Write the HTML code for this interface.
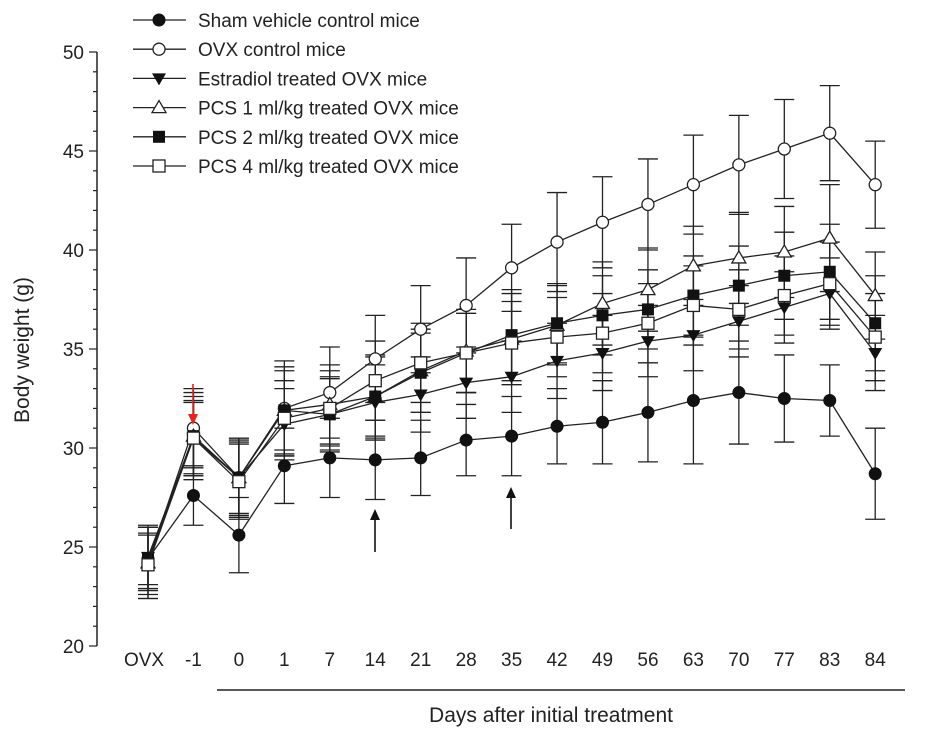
<!DOCTYPE html>
<html><head><meta charset="utf-8"><style>
body{margin:0;background:#fff}
svg text{font-family:"Liberation Sans",Arial,sans-serif;fill:#222}
</style></head><body>
<svg id="chart" width="930" height="738" xmlns="http://www.w3.org/2000/svg"></svg>
<script>
const categories=["OVX","-1","0","1","7","14","21","28","35","42","49","56","63","70","77","83","84"];
const shamValues=[24.4,27.6,25.6,29.1,29.5,29.4,29.5,30.4,30.6,31.1,31.3,31.8,32.4,32.8,32.5,32.4,28.7];
const shamErr=[1.3,1.5,1.9,1.9,2.0,2.0,1.9,1.8,2.0,1.9,2.1,2.5,3.2,2.6,2.2,1.8,2.3];
const ovxValues=[24.2,31.0,28.5,32.0,32.8,34.5,36.0,37.2,39.1,40.4,41.4,42.3,43.3,44.3,45.1,45.9,43.3];
const ovxErr=[1.8,2.0,2.0,2.4,2.3,2.2,2.2,2.4,2.2,2.5,2.3,2.3,2.5,2.5,2.5,2.4,2.2];
const e2Values=[24.5,30.5,28.5,31.2,31.7,32.3,32.7,33.3,33.6,34.4,34.8,35.4,35.7,36.4,37.1,37.8,34.8];
const e2Err=[1.6,1.8,1.8,1.8,1.8,1.9,1.9,1.8,1.8,1.9,1.9,1.8,1.8,1.8,1.8,1.8,1.9];
const pcs1Values=[24.2,30.6,28.5,31.9,32.2,32.6,33.9,34.9,35.5,36.2,37.3,38.0,39.2,39.6,39.9,40.6,37.7];
const pcs1Err=[1.8,2.2,2.0,2.2,2.0,2.1,2.1,2.1,2.3,2.0,2.1,2.1,2.0,2.3,2.3,2.7,2.2];
const pcs2Values=[24.4,30.6,28.5,31.9,31.7,32.6,33.8,34.8,35.7,36.3,36.7,37.0,37.7,38.2,38.7,38.9,36.3];
const pcs2Err=[1.6,2.0,1.9,2.0,1.9,2.0,2.0,2.0,2.3,2.0,2.0,2.0,2.0,2.0,2.2,2.4,2.4];
const pcs4Values=[24.1,30.5,28.3,31.5,32.0,33.4,34.3,34.8,35.3,35.6,35.8,36.3,37.2,37.0,37.7,38.3,35.6];
const pcs4Err=[1.5,1.9,1.9,1.9,1.9,2.0,2.0,2.0,2.1,2.0,2.0,2.0,2.0,2.0,2.0,2.1,2.2];
const yTicks=[20,25,30,35,40,45,50];
const legendLabels=["Sham vehicle control mice","OVX control mice","Estradiol treated OVX mice","PCS 1 ml/kg treated OVX mice","PCS 2 ml/kg treated OVX mice","PCS 4 ml/kg treated OVX mice"];

const NS="http://www.w3.org/2000/svg";
const svg=document.getElementById('chart');
const x0=148,dx=45.45,yBase=646,pxPerUnit=19.8;
function xs(i){return x0+i*dx;}
function ys(v){return yBase-(v-20)*pxPerUnit;}
function mk(tag,attrs,parent){const e=document.createElementNS(NS,tag);for(const k in attrs)e.setAttribute(k,attrs[k]);(parent||svg).appendChild(e);return e;}

// y axis
const ax=mk('g',{});


mk('line',{x1:97,y1:ys(50),x2:97,y2:ys(20),stroke:'#222','stroke-width':1.5},ax);
for(let v=20;v<=50;v++){const major=v%5===0;mk('line',{x1:major?89:93,y1:ys(v),x2:97,y2:ys(v),stroke:'#222','stroke-width':1.2},ax);}
yTicks.forEach(v=>{const t=mk('text',{x:84,y:ys(v)+7,'text-anchor':'end','font-size':19},ax);t.textContent=v;

});
const yt=mk('text',{x:0,y:0,transform:'translate(29,350) rotate(-90)','text-anchor':'middle','font-size':21});
yt.textContent='Body weight (g)';



// x labels
categories.forEach((c,i)=>{const t=mk('text',{x:xs(i)+(i===0?-4:0),y:666,'text-anchor':'middle','font-size':19});t.textContent=c;

});
const br=mk('line',{x1:217,y1:690,x2:905,y2:690,stroke:'#222','stroke-width':1.5});


const xt=mk('text',{x:551,y:722,'text-anchor':'middle','font-size':21});
xt.textContent='Days after initial treatment';



function marker(type,cx,cy,g){
  const r=6;
  if(type==='circleF')mk('circle',{cx,cy,r,fill:'#111',stroke:'#111'},g);
  else if(type==='circleO')mk('circle',{cx,cy,r,fill:'#fff',stroke:'#222','stroke-width':1.3},g);
  else if(type==='triD')mk('polygon',{points:`${cx-7},${cy-5} ${cx+7},${cy-5} ${cx},${cy+7}`,fill:'#111'},g);
  else if(type==='triU')mk('polygon',{points:`${cx-7},${cy+5} ${cx+7},${cy+5} ${cx},${cy-7}`,fill:'#fff',stroke:'#222','stroke-width':1.3},g);
  else if(type==='sqF')mk('rect',{x:cx-6,y:cy-6,width:12,height:12,fill:'#111'},g);
  else mk('rect',{x:cx-6,y:cy-6,width:12,height:12,fill:'#fff',stroke:'#222','stroke-width':1.3},g);
}
const series=[
 ['sham',shamValues,shamErr,'circleF'],
 ['ovx',ovxValues,ovxErr,'circleO'],
 ['estradiol',e2Values,e2Err,'triD'],
 ['pcs1',pcs1Values,pcs1Err,'triU'],
 ['pcs2',pcs2Values,pcs2Err,'sqF'],
 ['pcs4',pcs4Values,pcs4Err,'sqO']];
// error bars first
series.forEach(([n,vals,err])=>{
  const g=mk('g',{stroke:'#222','stroke-width':1.3});
  
  
  vals.forEach((v,i)=>{const x=xs(i);mk('line',{x1:x,y1:ys(v-err[i]),x2:x,y2:ys(v+err[i])},g);
    [v-err[i],v+err[i]].forEach(e=>mk('line',{x1:x-10,y1:ys(e),x2:x+10,y2:ys(e)},g));});
});
series.forEach(([n,vals,err,type])=>{
  const g=mk('g',{});
  
  
  mk('polyline',{points:vals.map((v,i)=>xs(i)+','+ys(v)).join(' '),fill:'none',stroke:'#222','stroke-width':1.3},g);
  vals.forEach((v,i)=>marker(type,xs(i),ys(v),g));
});
// legend
series.forEach(([n,,,type],k)=>{
  const y=20+k*29.2;
  const g=mk('g',{});
  
  
  mk('line',{x1:133,y1:y,x2:186,y2:y,stroke:'#222','stroke-width':1.3},g);
  marker(type,159,y,g);
  const t=mk('text',{x:198,y:y+7,'font-size':19},g);t.textContent=legendLabels[k];
});
// arrows
function arrow(x,y1,y2,col,name){const g=mk('g',{stroke:col,fill:col});
  
  
  const dir=Math.sign(y2-y1);
  mk('line',{x1:x,y1,x2:x,y2:y2-dir*8,'stroke-width':1.6},g);
  mk('polygon',{points:`${x-5},${y2-dir*11} ${x+5},${y2-dir*11} ${x},${y2}`,stroke:'none'},g);}
arrow(193,384,425,'#e8231c','ovx-surgery-arrow');
arrow(375,552,509,'#111','treatment-arrow-day14');
arrow(511,529,487,'#111','treatment-arrow-day35');
</script>
</body></html>
